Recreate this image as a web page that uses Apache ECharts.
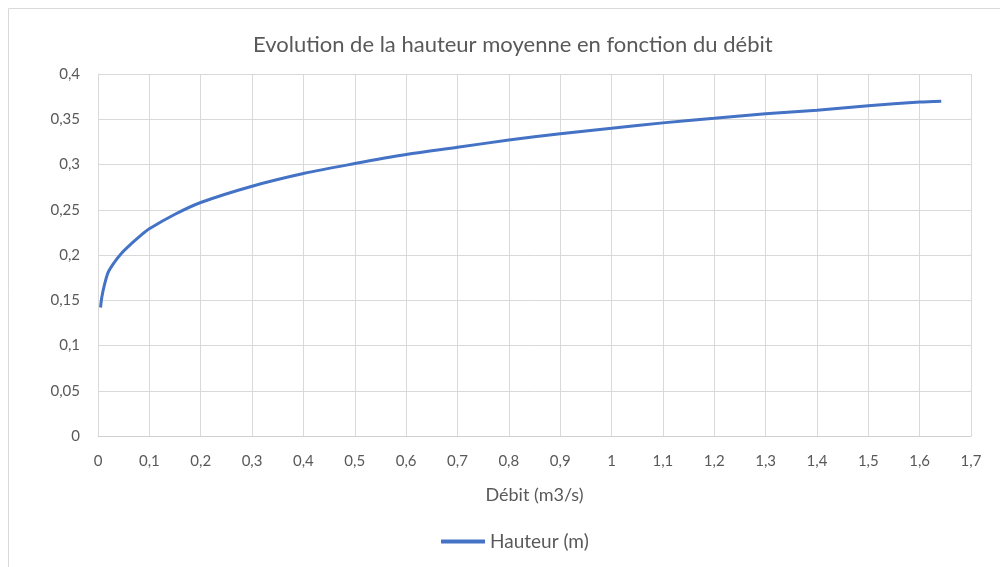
<!DOCTYPE html>
<html>
<head>
<meta charset="utf-8">
<script src="https://cdn.jsdelivr.net/npm/echarts@6/dist/echarts.min.js"></script>
<style>
  html, body { margin: 0; padding: 0; background: #fff; }
  #chart { width: 1000px; height: 567px; }
</style>
</head>
<body>
<div id="chart"></div>
<script>
// valeurs
var debit = [0.005, 0.0075, 0.013, 0.02, 0.032, 0.045, 0.065, 0.084, 0.1, 0.15, 0.2, 0.3, 0.4, 0.5, 0.6, 0.7, 0.8, 0.9, 1.0, 1.1, 1.2, 1.3, 1.4, 1.5, 1.6, 1.642];
var hauteur = [0.142, 0.1535, 0.168, 0.181, 0.192, 0.2015, 0.2125, 0.222, 0.229, 0.245, 0.258, 0.276, 0.290, 0.301, 0.311, 0.319, 0.327, 0.334, 0.340, 0.346, 0.351, 0.356, 0.360, 0.365, 0.369, 0.370];

var xTicks = { min: 0, max: 1.7, interval: 0.1 };
var yTicks = { min: 0, max: 0.4, interval: 0.05 };

var points = debit.map(function (d, i) { return [d, hauteur[i]]; });

function virgule(v) {
    return String(+v.toFixed(2)).replace('.', ',');
}

var font = 'Lato, "Open Sans", sans-serif';
var myChart = echarts.init(document.getElementById('chart'));
myChart.setOption({
    animation: false,
    textStyle: { fontFamily: font },
    title: {
        text: 'Evolution de la hauteur moyenne en fonction du débit',
        left: 248,
        top: 29,
        textStyle: { fontSize: 22, fontWeight: 'normal', color: '#595959', fontFamily: font }
    },
    graphic: [{
        type: 'rect',
        shape: { x: 8.5, y: 8.5, width: 1100, height: 700 },
        style: { fill: 'none', stroke: '#d9d9d9', lineWidth: 1 },
        silent: true
    }],
    legend: {
        top: 527,
        left: 436,
        itemWidth: 44,
        itemHeight: 4,
        itemGap: 4,
        icon: 'rect',
        textStyle: { fontSize: 19, color: '#595959', fontFamily: font },
        data: ['Hauteur (m)']
    },
    grid: {
        left: 98,
        right: 29,
        top: 74,
        bottom: 131
    },
    xAxis: {
        type: 'value',
        min: xTicks.min,
        max: xTicks.max,
        interval: xTicks.interval,
        name: 'Débit (m3/s)',
        nameLocation: 'middle',
        nameGap: 50,
        nameTextStyle: { fontSize: 18, color: '#595959', fontFamily: font },
        axisLine: { show: true, lineStyle: { color: '#d0d0d0', width: 1 } },
        axisTick: { show: false },
        axisLabel: { fontSize: 15, color: '#595959', margin: 18, formatter: virgule },
        splitLine: { show: true, lineStyle: { color: '#d9d9d9', width: 1 } }
    },
    yAxis: {
        type: 'value',
        min: yTicks.min,
        max: yTicks.max,
        interval: yTicks.interval,
        axisLine: { show: true, lineStyle: { color: '#d9d9d9', width: 1 } },
        axisTick: { show: false },
        axisLabel: { fontSize: 15, color: '#595959', margin: 18, formatter: virgule },
        splitLine: { show: true, lineStyle: { color: '#d9d9d9', width: 1 } }
    },
    series: [{
        name: 'Hauteur (m)',
        type: 'line',
        data: points,
        smooth: 0.3,
        showSymbol: false,
        lineStyle: { color: '#4472c4', width: 3 },
        itemStyle: { color: '#4472c4' }
    }]
});
</script>
</body>
</html>
